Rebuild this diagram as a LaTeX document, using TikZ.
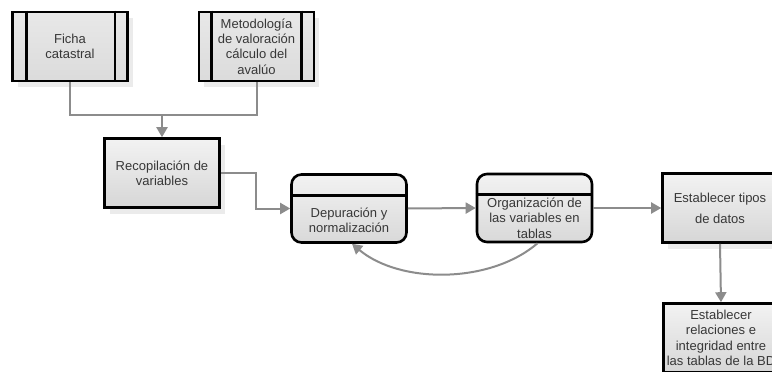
\documentclass[tikz,border=0pt]{standalone}
\usepackage{fontspec}
\setmainfont{Liberation Sans}
\usetikzlibrary{arrows.meta,shadows}
\definecolor{conngray}{RGB}{140,140,140}
\definecolor{txtgray}{RGB}{55,55,55}
\begin{document}
\begin{tikzpicture}[x=1pt,y=-1pt,
  txt/.style={font=\fontsize{13}{15.3}\selectfont, text=txtgray, align=center, inner sep=0pt},
  box/.style={txt, draw=black, line width=2.6pt, top color=gray!10, bottom color=gray!32,
    minimum width=115pt, minimum height=69pt,
    drop shadow={shadow xshift=5pt, shadow yshift=-6pt, fill=gray!22, opacity=0.7}},
  subbox/.style={box, top color=gray!18, bottom color=gray!28},
  rbox/.style={draw=black, line width=2.6pt, rounded corners=10pt, top color=gray!10, bottom color=gray!30,
    minimum width=115pt, minimum height=68pt, inner sep=0pt},
  conn/.style={draw=conngray, line width=2pt},
  arr/.style={conn, -{Triangle[length=10pt,width=11pt]}}
]
\useasboundingbox (0,0) rectangle (772,372);
\clip (0,0) rectangle (772,372);
\fill[white] (0,0) rectangle (772,372);

% top sub-process boxes
\node[subbox] (ficha) at (70,46.5) {Ficha\\catastral};
\draw[black, line width=2.6pt] ([xshift=15pt]ficha.north west) -- ([xshift=15pt]ficha.south west);
\draw[black, line width=2.6pt] ([xshift=-14pt]ficha.north east) -- ([xshift=-14pt]ficha.south east);

\node[subbox] (metodo) at (256.5,46.5) {Metodología\\de valoración\\cálculo del\\avalúo};
\draw[black, line width=2.6pt] ([xshift=14pt]metodo.north west) -- ([xshift=14pt]metodo.south west);
\draw[black, line width=2.6pt] ([xshift=-14pt]metodo.north east) -- ([xshift=-14pt]metodo.south east);

% main boxes
\node[box] (recop) at (162,173) {Recopilación de\\variables};

\node[rbox] (depur) at (349,208.5) {};
\draw[black, line width=2.6pt] ([yshift=-22pt]depur.north west) -- ([yshift=-22pt]depur.north east);
\node[txt] (depurT) at (349,220) {Depuración y\\normalización};

\node[rbox] (org) at (534.5,208) {};
\draw[black, line width=2.6pt] ([yshift=-22pt]org.north west) -- ([yshift=-22pt]org.north east);
\node[txt] (orgT) at (534.5,218) {Organización de\\las variables en\\tablas};

\node[box, font=\fontsize{13}{21}\selectfont] (tipos) at (720,208) {Establecer tipos\\de datos};
\node[box] (rel) at (721,338) {Establecer\\relaciones e\\integridad entre\\las tablas de la BD};

% connectors
\coordinate (m) at (162,115);
\draw[conn] (ficha.south) |- (m);
\draw[conn] (metodo.south) |- (m);
\draw[arr] (m) -- (recop.north);

\coordinate (k) at (256,173);
\draw[arr] (recop.east) -- (k) |- (depur.west);
\draw[arr] (depur.east) -- (org.west);
\draw[arr] (org.east) -- (tipos.west);
\draw[arr] (tipos.south) -- (rel.north);
\draw[arr] ([xshift=3pt]org.south) .. controls (490,284) and (400,284) .. ([xshift=3pt]depur.south);
\end{tikzpicture}
\end{document}
